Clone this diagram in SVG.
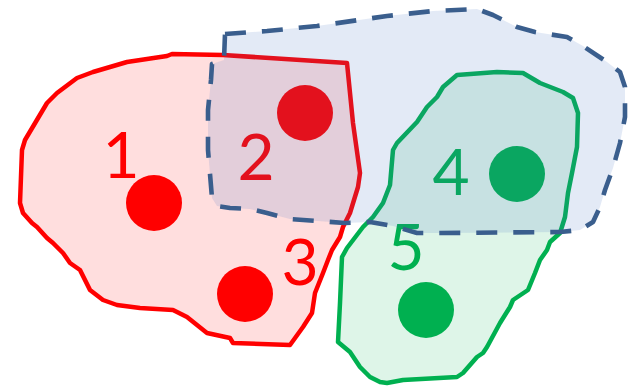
<svg xmlns="http://www.w3.org/2000/svg" width="629" height="388" viewBox="0 0 629 388">
  <style>
    .region { stroke-linejoin: round; stroke-linecap: round; }
    .red-region { fill: #FF0000; fill-opacity: 0.13; stroke: #FF0000; stroke-width: 4.5; }
    .green-region { fill: #00B050; fill-opacity: 0.13; stroke: #00B050; stroke-width: 4.5; }
    .blue-region { fill: #4472C4; fill-opacity: 0.15; stroke: #3A5E8D; stroke-width: 4.6; stroke-dasharray: 21 16; stroke-linecap: butt; }
    .dot-red { fill: #FF0000; }
    .dot-green { fill: #00B050; }
    .label { font-family: Lato, "DejaVu Sans", "Liberation Sans", sans-serif; font-size: 64px; text-anchor: middle; }
    .label-red { fill: #FF0000; }
    .label-green { fill: #00B050; }
  </style>

  <!-- red set -->
  <g id="region-red">
    <path class="region red-region" d="M167,56 L172,54 L223,55 L347,63 L353,123 L360,173 L358,187 L350,213 L343,227 L340,237 L332,250 L328,260 L323,273 L315,293 L312,313 L303,327 L290,345 L233,343 L230,338 L207,333 L187,317 L173,310 L140,308 L117,305 L103,300 L90,290 L80,270 L70,263 L63,253 L53,243 L47,238 L37,227 L32,223 L23,213 L20,203 L22,150 L25,140 L47,103 L57,93 L77,78 L93,72 L127,62 Z"/>
  </g>

  <!-- green set -->
  <g id="region-green">
    <path class="region green-region" d="M457,75 L497,72 L523,73 L540,83 L563,92 L573,98 L578,113 L577,147 L572,173 L568,193 L565,217 L560,233 L550,242 L547,250 L540,260 L535,273 L528,290 L513,300 L510,307 L500,323 L487,347 L483,353 L477,357 L463,373 L457,377 L403,380 L387,383 L380,382 L370,377 L360,367 L350,352 L338,342 L340,303 L342,257 L347,248 L363,227 L373,217 L383,203 L390,185 L393,150 L397,143 L417,122 L427,107 L437,97 L443,87 Z"/>
  </g>

  <!-- elements -->
  <g id="node-1">
    <circle class="dot-red" cx="154" cy="203" r="28"/>
    <text class="label label-red" x="121" y="178">1</text>
  </g>
  <g id="node-2">
    <circle class="dot-red" cx="305" cy="113" r="28"/>
    <text class="label label-red" x="256" y="180">2</text>
  </g>
  <g id="node-3">
    <circle class="dot-red" cx="245" cy="294" r="28"/>
    <text class="label label-red" x="300" y="285">3</text>
  </g>
  <g id="node-4">
    <circle class="dot-green" cx="517" cy="174" r="28"/>
    <text class="label label-green" x="451" y="195">4</text>
  </g>
  <g id="node-5">
    <circle class="dot-green" cx="426" cy="310" r="28"/>
    <text class="label label-green" x="406" y="270">5</text>
  </g>

  <!-- blue set, translucent, drawn over everything -->
  <g id="region-blue">
    <path class="region blue-region" d="M225,34 L267,31 L317,26 L387,16 L433,11 L477,9 L493,15 L517,27 L535,32 L567,37 L583,46 L607,62 L620,72 L625,87 L625,117 L620,143 L613,168 L605,190 L600,207 L593,222 L580,230 L560,232 L440,233 L417,233 L393,226 L370,222 L345,223 L290,219 L267,213 L250,209 L230,208 L217,206 L212,198 L208,150 L208,110 L211,80 L212,64 L224,60 Z"/>
  </g>
</svg>
